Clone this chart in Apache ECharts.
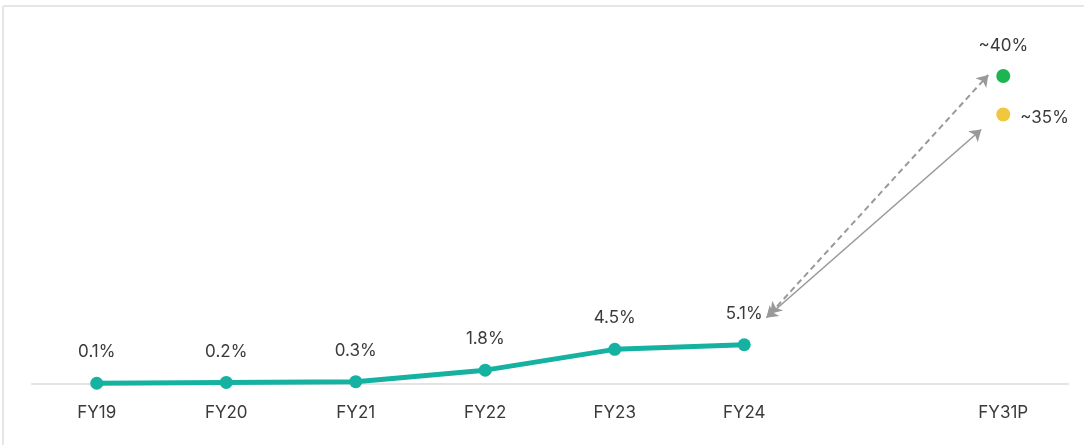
<!DOCTYPE html>
<html>
<head>
<meta charset="utf-8">
<script src="https://cdn.jsdelivr.net/npm/echarts@6/dist/echarts.min.js"></script>
<style>
  html, body { margin: 0; padding: 0; background: #fff; }
  #chart1 { width: 1084px; height: 445px; }
</style>
</head>
<body>
<div id="chart1"></div>
<script>
    // 数据
    var categories = ['FY19', 'FY20', 'FY21', 'FY22', 'FY23', 'FY24', '', 'FY31P'];
    var actualValues = [0.1, 0.2, 0.3, 1.8, 4.5, 5.1, '-', '-'];
    var bullValues = ['-', '-', '-', '-', '-', '-', '-', 40];
    var baseValues = ['-', '-', '-', '-', '-', '-', '-', 35];

    var textColor = '#3a3a3a';
    var fontFamily = 'Inter, "Noto Sans", sans-serif';
    var fontSize = 17;

    var option = {
        animation: false,
        grid: { left: 32, right: 16, top: 76, bottom: 61 },
        graphic: [
            // 外框
            { type: 'line', shape: { x1: 3, y1: 6, x2: 1084, y2: 6 }, style: { stroke: '#e6e6e6', lineWidth: 2 } },
            { type: 'line', shape: { x1: 3, y1: 6, x2: 3, y2: 445 }, style: { stroke: '#e6e6e6', lineWidth: 2 } }
        ],
        xAxis: {
            type: 'category',
            data: categories,
            axisLine: { lineStyle: { color: '#e3e3e3', width: 2 } },
            axisTick: { show: false },
            axisLabel: { color: textColor, fontSize: fontSize, fontFamily: fontFamily, margin: 20 }
        },
        yAxis: {
            type: 'value',
            min: 0,
            max: 40,
            show: false,
            splitLine: { show: false }
        },
        series: [{
            name: 'actual',
            type: 'line',
            data: actualValues,
            symbol: 'circle',
            symbolSize: 13,
            lineStyle: { color: '#15b1a1', width: 5 },
            itemStyle: { color: '#15b1a1' },
            label: {
                show: true, position: 'top', distance: 16,
                formatter: '{c}%', color: textColor, fontSize: fontSize, fontFamily: fontFamily
            }
        }, {
            name: 'bull',
            type: 'scatter',
            data: bullValues,
            symbolSize: 14,
            itemStyle: { color: '#1db553', opacity: 1 },
            label: {
                show: true, position: 'top', distance: 15,
                formatter: '~{c}%', color: textColor, fontSize: fontSize, fontFamily: fontFamily
            }
        }, {
            name: 'base',
            type: 'scatter',
            data: baseValues,
            symbolSize: 14,
            itemStyle: { color: '#f0c840', opacity: 1 },
            label: {
                show: true, position: 'right', distance: 10, offset: [0, 3],
                formatter: '~{c}%', color: textColor, fontSize: fontSize, fontFamily: fontFamily
            }
        }]
    };

    var myChart = echarts.init(document.getElementById('chart1'));
    myChart.setOption(option);

    // 箭头：根据数据点位置换算像素
    var p24 = myChart.convertToPixel({ seriesIndex: 0 }, [5, actualValues[5]]);
    var pBull = myChart.convertToPixel({ seriesIndex: 0 }, [7, bullValues[7]]);
    var pBase = myChart.convertToPixel({ seriesIndex: 0 }, [7, baseValues[7]]);

    myChart.setOption({
        series: [{
            name: 'actual',
            markLine: {
                silent: true,
                symbol: ['arrow', 'arrow'],
                symbolSize: 11,
                label: { show: false },
                data: [
                    [{ x: p24[0] + 26, y: p24[1] - 31, lineStyle: { type: [6, 4], color: '#999', width: 2 } },
                     { x: pBull[0] - 15, y: pBull[1] - 1 }],
                    [{ x: p24[0] + 22, y: p24[1] - 27, lineStyle: { type: 'solid', color: '#999', width: 1.6 } },
                     { x: pBase[0] - 22, y: pBase[1] + 15 }]
                ]
            }
        }]
    });
</script>
</body>
</html>
